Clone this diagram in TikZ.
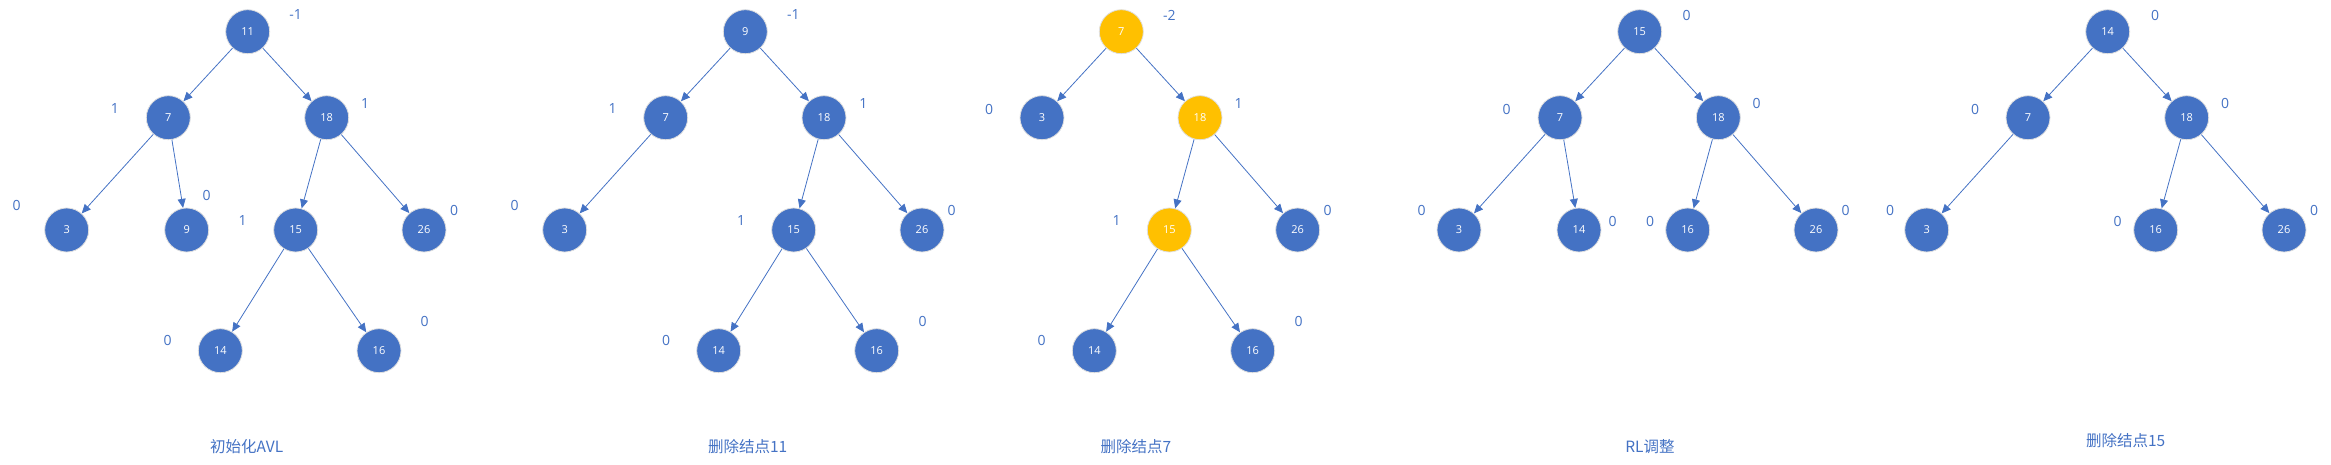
\documentclass[tikz,border=0pt]{standalone}
\usepackage{fontspec}
\setmainfont{Open Sans}
\newfontfamily\cjk{Noto Sans CJK SC}
\usetikzlibrary{arrows.meta}
\definecolor{avlblue}{RGB}{68,114,196}
\definecolor{avlgold}{RGB}{255,192,0}

\begin{document}
\begin{tikzpicture}[x=1pt, y=-1pt,
    avl/.style={circle, draw=gray!25, line width=0.8pt, fill=avlblue, minimum size=44pt, inner sep=0pt, text=white, font=\fontsize{11}{11}\selectfont},
    hot/.style={avl, fill=avlgold},
    bf/.style={text=avlblue, inner sep=0pt, font=\fontsize{14}{14}\selectfont},
    stagecap/.style={text=avlblue, inner sep=0pt, font=\cjk\fontsize{15.5}{15.5}\selectfont},
    arr/.style={-{Triangle[length=9pt, width=8pt]}, avlblue, line width=0.8pt},
]
\useasboundingbox (0,0) rectangle (2331,465);

% initial tree
\node[avl] (a11) at (247.7,31.7)  {11};
\node[avl] (a7)  at (168.3,117.7) {7};
\node[avl] (a18) at (326.7,117.7) {18};
\node[avl] (a3)  at (66.7,230)    {3};
\node[avl] (a9)  at (186.7,230)   {9};
\node[avl] (a15) at (295.7,230)   {15};
\node[avl] (a26) at (424,230)     {26};
\node[avl] (a14) at (220.3,350.7) {14};
\node[avl] (a16) at (379,350.7)   {16};
\node[bf] at (295.7,15)  {-1};
\node[bf] at (115,109)   {1};
\node[bf] at (365,103.3) {1};
\node[bf] at (16.7,205)  {0};
\node[bf] at (206.7,195) {0};
\node[bf] at (242.7,221) {1};
\node[bf] at (454,210)   {0};
\node[bf] at (167.7,340.7) {0};
\node[bf] at (424.7,321.7) {0};
\node[stagecap] (capa) at (246.7,446.7) {初始化AVL};
\draw[arr] (a11) -- (a7);
\draw[arr] (a11) -- (a18);
\draw[arr] (a7) -- (a3);
\draw[arr] (a7) -- (a9);
\draw[arr] (a18) -- (a15);
\draw[arr] (a18) -- (a26);
\draw[arr] (a15) -- (a14);
\draw[arr] (a15) -- (a16);

% delete 11
\node[avl] (b9)  at (745.3,31.7)  {9};
\node[avl] (b7)  at (665.7,117.7) {7};
\node[avl] (b18) at (824,117.7)   {18};
\node[avl] (b3)  at (564.7,230)   {3};
\node[avl] (b15) at (793.7,230)   {15};
\node[avl] (b26) at (922,230)     {26};
\node[avl] (b14) at (718.7,350.7) {14};
\node[avl] (b16) at (876.7,350.7) {16};
\node[bf] at (793.3,15)  {-1};
\node[bf] at (612.7,109) {1};
\node[bf] at (863.3,103.3) {1};
\node[bf] at (514.7,205) {0};
\node[bf] at (741,221)   {1};
\node[bf] at (951.7,210) {0};
\node[bf] at (666,340.7) {0};
\node[bf] at (922.7,321.7) {0};
\node[stagecap] (capb) at (747.7,446.7) {删除结点11};
\draw[arr] (b9) -- (b7);
\draw[arr] (b9) -- (b18);
\draw[arr] (b7) -- (b3);
\draw[arr] (b18) -- (b15);
\draw[arr] (b18) -- (b26);
\draw[arr] (b15) -- (b14);
\draw[arr] (b15) -- (b16);

% delete 7
\node[hot] (c7)  at (1121.3,31.7) {7};
\node[avl] (c3)  at (1042,117.7)  {3};
\node[hot] (c18) at (1200,117.7)  {18};
\node[hot] (c15) at (1169.3,230)  {15};
\node[avl] (c26) at (1297.7,230)  {26};
\node[avl] (c14) at (1094.3,350.7) {14};
\node[avl] (c16) at (1252.7,350.7) {16};
\node[bf] at (1169.3,15)  {-2};
\node[bf] at (989,109)    {0};
\node[bf] at (1238.7,103.3) {1};
\node[bf] at (1116.7,221) {1};
\node[bf] at (1327.7,210) {0};
\node[bf] at (1041.7,340.7) {0};
\node[bf] at (1298.7,321.7) {0};
\node[stagecap] (capc) at (1136,446.7) {删除结点7};
\draw[arr] (c7) -- (c3);
\draw[arr] (c7) -- (c18);
\draw[arr] (c18) -- (c15);
\draw[arr] (c18) -- (c26);
\draw[arr] (c15) -- (c14);
\draw[arr] (c15) -- (c16);

% RL rotation
\node[avl] (d15) at (1639.7,31.7) {15};
\node[avl] (d7)  at (1560,117.7)  {7};
\node[avl] (d18) at (1718.3,117.7) {18};
\node[avl] (d3)  at (1459,230)    {3};
\node[avl] (d14) at (1579,230)    {14};
\node[avl] (d16) at (1687.7,230)  {16};
\node[avl] (d26) at (1816,230)    {26};
\node[bf] at (1686.7,15)  {0};
\node[bf] at (1506.7,109) {0};
\node[bf] at (1756.7,103.3) {0};
\node[bf] at (1421.7,210) {0};
\node[bf] at (1612.7,221) {0};
\node[bf] at (1650,221)   {0};
\node[bf] at (1845.7,210) {0};
\node[stagecap] (capd) at (1650,446.7) {RL调整};
\draw[arr] (d15) -- (d7);
\draw[arr] (d15) -- (d18);
\draw[arr] (d7) -- (d3);
\draw[arr] (d7) -- (d14);
\draw[arr] (d18) -- (d16);
\draw[arr] (d18) -- (d26);

% delete 15
\node[avl] (e14) at (2107.7,31.7) {14};
\node[avl] (e7)  at (2028,117.7)  {7};
\node[avl] (e18) at (2186.7,117.7) {18};
\node[avl] (e3)  at (1926.7,230)  {3};
\node[avl] (e16) at (2155.7,230)  {16};
\node[avl] (e26) at (2284,230)    {26};
\node[bf] at (2155,15)    {0};
\node[bf] at (1975,109)   {0};
\node[bf] at (2225,103.3) {0};
\node[bf] at (1890,210)   {0};
\node[bf] at (2117.7,221) {0};
\node[bf] at (2314,210)   {0};
\node[stagecap] (cape) at (2125.7,440.7) {删除结点15};
\draw[arr] (e14) -- (e7);
\draw[arr] (e14) -- (e18);
\draw[arr] (e7) -- (e3);
\draw[arr] (e18) -- (e16);
\draw[arr] (e18) -- (e26);
\end{tikzpicture}
\end{document}
